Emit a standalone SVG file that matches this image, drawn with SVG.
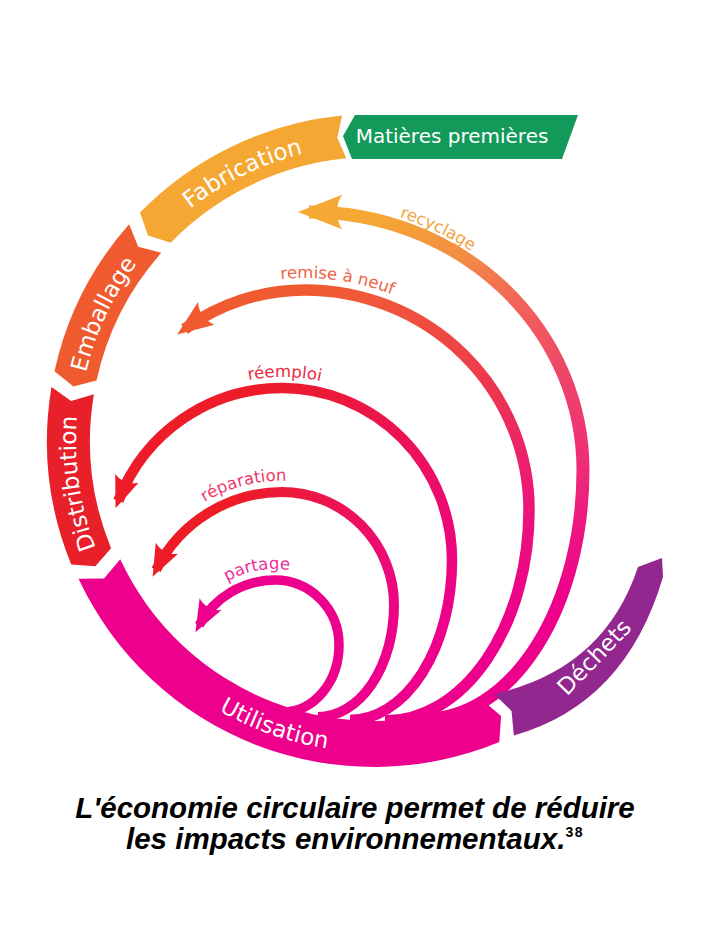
<svg xmlns="http://www.w3.org/2000/svg" width="709" height="945" viewBox="0 0 709 945">
<style>
.seg-label{font-family:"DejaVu Sans","Noto Sans",sans-serif;font-size:23px;fill:#ffffff;}
.mp-label{font-family:"DejaVu Sans","Noto Sans",sans-serif;font-size:20px;fill:#ffffff;}
.arc-label{font-family:"DejaVu Sans","Noto Sans",sans-serif;font-size:16.5px;}
.arrow{fill:none;stroke-linecap:butt;}
.caption{font-family:"Liberation Sans",Arial,sans-serif;font-weight:bold;font-style:italic;font-size:29.5px;fill:#000000;text-anchor:middle;}
.sup{font-size:14px;font-style:normal;letter-spacing:1.5px;}
</style>
<defs>
<linearGradient id="g-recy" gradientUnits="userSpaceOnUse" x1="560" y1="600" x2="380" y2="215">
<stop offset="0" stop-color="#EC008C"/><stop offset="0.25" stop-color="#EE2A78"/><stop offset="0.5" stop-color="#EF4866"/><stop offset="0.68" stop-color="#F1645A"/><stop offset="0.82" stop-color="#F38A45"/><stop offset="1" stop-color="#F5A833"/>
</linearGradient>
<linearGradient id="g-remise" gradientUnits="userSpaceOnUse" x1="520" y1="620" x2="330" y2="290">
<stop offset="0" stop-color="#EC008C"/><stop offset="0.26" stop-color="#EC1578"/><stop offset="0.4" stop-color="#EC2566"/><stop offset="0.55" stop-color="#ED3550"/><stop offset="0.71" stop-color="#EE4545"/><stop offset="0.93" stop-color="#F0583A"/><stop offset="1" stop-color="#F05A30"/>
</linearGradient>
<linearGradient id="g-reemploi" gradientUnits="userSpaceOnUse" x1="460" y1="600" x2="250" y2="400">
<stop offset="0" stop-color="#EC008C"/><stop offset="0.4" stop-color="#EC0F62"/><stop offset="0.75" stop-color="#EC1840"/><stop offset="1" stop-color="#ED1C28"/>
</linearGradient>
<linearGradient id="g-repar" gradientUnits="userSpaceOnUse" x1="395" y1="650" x2="230" y2="500">
<stop offset="0" stop-color="#EC008C"/><stop offset="0.3" stop-color="#EC0A78"/><stop offset="0.6" stop-color="#EC1356"/><stop offset="1" stop-color="#ED1C26"/>
</linearGradient>
<marker id="ah-recy" viewBox="-50 -25 70 50" markerWidth="70" markerHeight="50" refX="0" refY="0" orient="auto" markerUnits="userSpaceOnUse"><path d="M11,0 L-33.1,-17.25 C-26.2,-6.9 -26.2,6.9 -33.1,17.25 Z" fill="#F5A833"/></marker>
<marker id="ah-remise" viewBox="-50 -25 70 50" markerWidth="70" markerHeight="50" refX="0" refY="0" orient="auto" markerUnits="userSpaceOnUse"><path d="M9,0 L-26.9,-14 C-21.3,-5.6 -21.3,5.6 -26.9,14 Z" fill="#F05A2E"/></marker>
<marker id="ah-reemploi" viewBox="-50 -25 70 50" markerWidth="70" markerHeight="50" refX="0" refY="0" orient="auto" markerUnits="userSpaceOnUse"><path d="M8,0 L-24,-12.5 C-19,-5 -19,5 -24,12.5 Z" fill="#ED1C27"/></marker>
<marker id="ah-repar" viewBox="-50 -25 70 50" markerWidth="70" markerHeight="50" refX="0" refY="0" orient="auto" markerUnits="userSpaceOnUse"><path d="M8,0 L-24,-12.5 C-19,-5 -19,5 -24,12.5 Z" fill="#ED1C26"/></marker>
<marker id="ah-partage" viewBox="-50 -25 70 50" markerWidth="70" markerHeight="50" refX="0" refY="0" orient="auto" markerUnits="userSpaceOnUse"><path d="M8,0 L-24,-12.5 C-19,-5 -19,5 -24,12.5 Z" fill="#EC008C"/></marker>
<path id="lp-fab" d="M 86.67,369.89 A 296 296 0 0 1 493.92,170.38"/>
<path id="lp-emb" d="M 105.52,565.63 A 296 296 0 0 1 297.89,154.95"/>
<path id="lp-dist" d="M 216.79,694.16 A 298 298 0 0 1 152.20,241.99"/>
<path id="lp-util" d="M 83.08,550.93 A 311 311 0 0 0 532.82,708.39"/>
<path id="lp-recy" d="M 158.2,244.07 A 283 267 0 0 1 591.79,459.75"/>
<path id="lp-remise" d="M 119.03,367.17 A 236 232 0 0 1 523.81,423.09"/>
<path id="lp-reemploi" d="M 122.23,467.76 A 186 186 0 0 1 444.33,472.26"/>
<path id="lp-repar" d="M 135.53,592.08 A 152 152 0 0 1 390.41,526.16"/>
<path id="lp-partage" d="M 183.56,633.62 A 97 97 0 0 1 348.76,603.0"/>
</defs>
<rect x="0" y="0" width="709" height="945" fill="#ffffff"/>

<g id="connectors">
<g id="arrow-recyclage">
<path class="arrow" d="M 425,719 A 158 249 0 0 0 583,470 A 274 258 0 0 0 309,212" stroke="url(#g-recy)" stroke-width="13" marker-end="url(#ah-recy)"/>
<text class="arc-label" fill="#F5A244"><textPath href="#lp-recy" startOffset="50%" text-anchor="middle">recyclage</textPath></text>
</g>
<g id="arrow-remise">
<path class="arrow" d="M 385,721 A 144 211 0 0 0 529,510 A 224 220 0 0 0 305,290 A 205.2 205.2 0 0 0 184.5,329.1" stroke="url(#g-remise)" stroke-width="11.5" marker-end="url(#ah-remise)"/>
<text class="arc-label" fill="#F06444"><textPath href="#lp-remise" startOffset="50%" text-anchor="middle">remise à neuf</textPath></text>
</g>
<g id="arrow-reemploi">
<path class="arrow" d="M 350,720 A 102 160 0 0 0 452,560 A 170 172 0 0 0 282,388 A 175 175 0 0 0 118.4,500.8" stroke="url(#g-reemploi)" stroke-width="10.5" marker-end="url(#ah-reemploi)"/>
<text class="arc-label" fill="#EC2846"><textPath href="#lp-reemploi" startOffset="50%" text-anchor="middle">réemploi</textPath></text>
</g>
<g id="arrow-reparation">
<path class="arrow" d="M 318,717 A 76 112 0 0 0 394,605 A 112 113 0 0 0 282,492 A 140.7 140.7 0 0 0 156.2,569.7" stroke="url(#g-repar)" stroke-width="10" marker-end="url(#ah-repar)"/>
<text class="arc-label" fill="#EE3A6A"><textPath href="#lp-repar" startOffset="50%" text-anchor="middle">réparation</textPath></text>
</g>
<g id="arrow-partage">
<path class="arrow" d="M 283,712 A 56 67 0 0 0 339,645 A 64 65 0 0 0 275,580 A 86.2 86.2 0 0 0 199.2,625.2" stroke="#EC008C" stroke-width="9.5" marker-end="url(#ah-partage)"/>
<text class="arc-label" fill="#EE2C9C"><textPath href="#lp-partage" startOffset="50%" text-anchor="middle">partage</textPath></text>
</g>
</g>

<g id="matieres-premieres">
<polygon points="343,136 355,115 578,115 562,159 352,159" fill="#139A5A"/>
<text class="mp-label" x="452" y="143" text-anchor="middle">Matières premières</text>
</g>
<g id="fabrication">
<path d="M 342.09,115.56 A 327 327 0 0 0 139.97,212.62 L 148.04,235.39 L 170.74,242.65 A 284 284 0 0 1 346.29,158.35 L 337.30,137.71 Z" fill="#F5A733"/>
<text class="seg-label"><textPath href="#lp-fab" startOffset="50%" text-anchor="middle">Fabrication</textPath></text>
</g>
<g id="emballage">
<path d="M 129.09,224.32 A 327 327 0 0 0 54.50,371.34 L 73.42,386.38 L 96.52,380.50 A 284 284 0 0 1 161.30,252.82 L 138.27,246.68 Z" fill="#EF5A2E"/>
<text class="seg-label"><textPath href="#lp-emb" startOffset="50%" text-anchor="middle">Emballage</textPath></text>
</g>
<g id="distribution">
<path d="M 51.48,387.03 A 327 327 0 0 0 71.24,564.55 L 95.35,566.23 L 111.05,548.31 A 284 284 0 0 1 93.89,394.13 L 71.11,401.12 Z" fill="#E8202A"/>
<text class="seg-label"><textPath href="#lp-dist" startOffset="50%" text-anchor="middle">Distribution</textPath></text>
</g>
<g id="utilisation">
<path d="M 78.54,578.77 A 326 326 0 0 0 499.28,741.97 L 501.09,716.06 L 481.60,699.50 A 280 280 0 0 1 120.23,559.33 L 104.02,578.56 Z" fill="#EC008C"/>
<text class="seg-label"><textPath href="#lp-util" startOffset="50%" text-anchor="middle">Utilisation</textPath></text>
</g>
<g id="dechets">
<path d="M 494.10,693.94 L 511.56,710.98 L 513.83,735.49 Q 625.5,704 663,577 L 662,558 L 638,567 Q 604,669.5 494.10,693.94 Z" fill="#92278F"/>
<text class="seg-label" transform="translate(594,657) rotate(-46)" x="0" y="8" text-anchor="middle">Déchets</text>
</g>

<g id="caption">
<text class="caption" x="355" y="818">L'économie circulaire permet de réduire</text>
<text class="caption" x="355" y="849">les impacts environnementaux.<tspan class="sup" dy="-12">38</tspan></text>
</g>
</svg>
